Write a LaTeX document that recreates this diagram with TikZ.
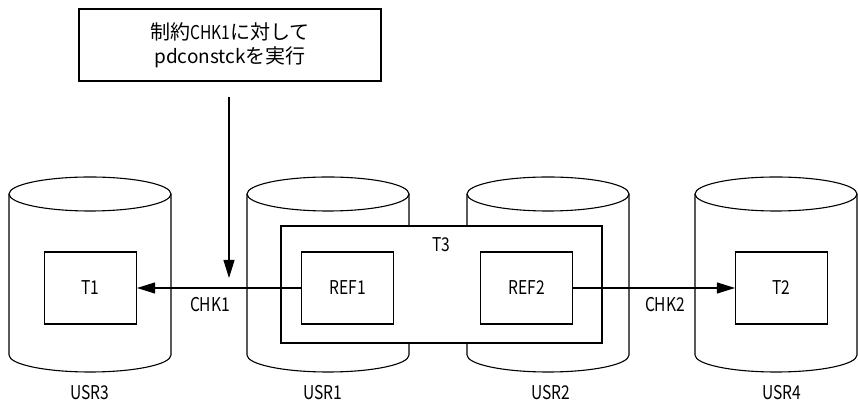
\documentclass[tikz,border=0pt]{standalone}
\usepackage{fontspec}
\setmainfont{Noto Sans CJK JP}
\newfontfamily\latnarrow{Noto Sans CJK JP}[FakeStretch=0.82]
\usetikzlibrary{arrows.meta}
\begin{document}
\begin{tikzpicture}[x=1pt,y=1pt,line width=1.1pt,
  tbox/.style={draw,fill=white,minimum width=92pt,minimum height=72pt,inner sep=0pt,
    font=\latnarrow\fontsize{19}{20}\selectfont},
  lbl/.style={inner sep=0pt,font=\latnarrow\fontsize{19}{20}\selectfont},
  arr/.style={-{Triangle[length=18pt,width=11pt]}},
  cyl/.pic={
    \draw (-81pt,161pt) -- (-81pt,0pt) arc[start angle=180,end angle=360,x radius=81pt,y radius=17pt] -- (81pt,161pt);
    \draw (0pt,161pt) ellipse[x radius=81pt,y radius=17pt];
  }]
\useasboundingbox (0,0) rectangle (858,403);
% cylinders
\pic at (90,48) {cyl};
\pic at (328,48) {cyl};
\pic at (548,48) {cyl};
\pic at (776,48) {cyl};
% top note
\node[draw,fill=white,minimum width=302pt,minimum height=72pt,inner sep=0pt,align=center,
  font=\fontsize{20}{24}\selectfont] (note) at (230,358) {制約{\latnarrow\fontsize{19}{24}\selectfont CHK1}に対して\\{\fontsize{19}{24}\selectfont pdconstck}を実行};
% T3 container
\node[draw,fill=white,minimum width=321pt,minimum height=117pt,inner sep=0pt] (t3) at (441.5,118.5) {};
\node[lbl] (t3l) at (441,158) {T3};
% tables
\node[tbox] (t1) at (90.5,115) {T1};
\node[tbox] (ref1) at (347.5,115) {REF1};
\node[tbox] (ref2) at (526.5,115) {REF2};
\node[tbox] (t2) at (781.5,115) {T2};
% connectors
\draw[arr] (ref1.west) -- (t1.east);
\draw[arr] (ref2.east) -- (t2.west);
\coordinate (vs) at (229,306);
\coordinate (ve) at (229,125);
\draw[arr] (vs) -- (ve);
% labels
\node[lbl] (chk1) at (210,98) {CHK1};
\node[lbl] (chk2) at (665,98) {CHK2};
\node[lbl] (u3) at (89.5,10) {USR3};
\node[lbl] (u1) at (322.5,10) {USR1};
\node[lbl] (u2) at (551,10) {USR2};
\node[lbl] (u4) at (781.5,10) {USR4};
\end{tikzpicture}
\end{document}
